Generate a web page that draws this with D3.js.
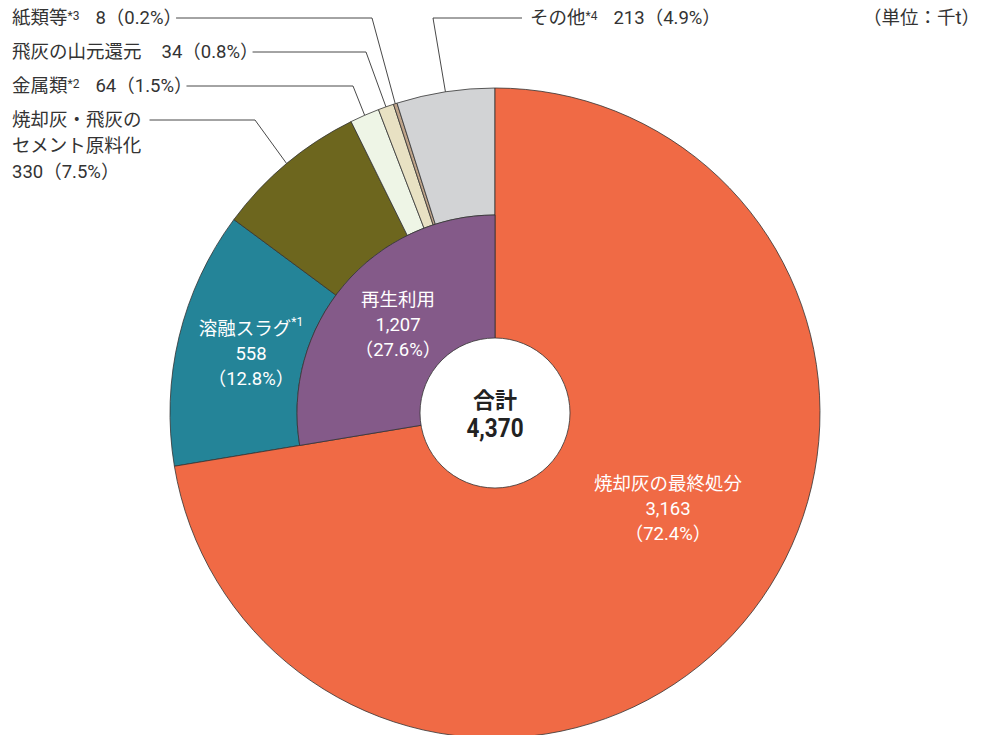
<!DOCTYPE html>
<html lang="ja">
<head>
<meta charset="utf-8">
<script src="https://cdn.jsdelivr.net/npm/d3@7"></script>
<style>
  html, body { margin: 0; padding: 0; background: #fff; }
  svg { display: block; }
  text { font-family: Roboto, "Noto Sans CJK JP", sans-serif; }
</style>
</head>
<body>
<svg id="chart" width="981" height="735"></svg>
<script>
// 焼却灰等の処理内訳（単位：千t）
const categories = ["焼却灰の最終処分", "溶融スラグ", "焼却灰・飛灰のセメント原料化", "金属類", "飛灰の山元還元", "紙類等", "その他"];
const values     = [3163, 558, 330, 64, 34, 8, 213];
const shareLabels = ["72.4%", "12.8%", "7.5%", "1.5%", "0.8%", "0.2%", "4.9%"];
const notes      = ["", "*1", "", "*2", "", "*3", "*4"];
const colors     = ["#F06A45", "#248498", "#6D661E", "#EEF5E6", "#E8E1C3", "#BFA48A", "#D2D3D5"];

// 再生利用（溶融スラグ〜その他の合計）
const groupName   = "再生利用";
const groupValue  = 1207;
const groupShare  = "27.6%";
const groupColor  = "#845A89";
const totalLabel  = "合計";
const totalValue  = 4370;
const unitLabel   = "（単位：千t）";

const svg = d3.select("#chart");
const cx = 495, cy = 413;
const rOuter = 325, rMid = 198, rHole = 75;
const fmt = d3.format(",");
const FS = 18.5;

const pie = d3.pie().sort(null).value(d => d.value);
const data = categories.map((c, i) => ({ name: c, value: values[i], share: shareLabels[i], note: notes[i], color: colors[i] }));
const arcs = pie(data);

const g = svg.append("g").attr("transform", `translate(${cx},${cy})`);

const arcOuterRing = d3.arc().innerRadius(rMid).outerRadius(rOuter);
const arcFull = d3.arc().innerRadius(0).outerRadius(rOuter);

// 外周の再生利用内訳
g.selectAll("path.ring")
  .data(arcs.slice(1))
  .join("path")
  .attr("class", "ring")
  .attr("d", arcOuterRing)
  .attr("fill", d => d.data.color)
  .attr("stroke", "#333")
  .attr("stroke-width", 0.8);

// 最終処分（中心まで）
g.append("path")
  .attr("d", arcFull(arcs[0]))
  .attr("fill", arcs[0].data.color)
  .attr("stroke", "#333")
  .attr("stroke-width", 0.8);

// 内側の再生利用
const innerPie = pie([{ value: totalValue - groupValue }, { value: groupValue }]);
const arcInner = d3.arc().innerRadius(0).outerRadius(rMid);
g.append("path")
  .attr("d", arcInner(innerPie[1]))
  .attr("fill", groupColor)
  .attr("stroke", "#333")
  .attr("stroke-width", 0.8);

// 中央の合計
g.append("circle").attr("r", rHole).attr("fill", "#fff").attr("stroke", "#333").attr("stroke-width", 0.8);
g.append("text").attr("text-anchor", "middle").attr("y", -13).attr("dy", "0.35em")
  .attr("font-size", 22).attr("font-weight", 700).attr("fill", "#222").text(totalLabel);
g.append("text").attr("text-anchor", "middle").attr("y", 15).attr("dy", "0.35em")
  .attr("font-size", 25).attr("font-weight", 700).attr("fill", "#222")
  .attr("transform", "scale(0.9,1)").text(fmt(totalValue));

// スライス内ラベル（白文字）
function innerLabel(x, y, lines) {
  const t = svg.append("text").attr("text-anchor", "middle").attr("font-size", FS).attr("fill", "#fff");
  lines.forEach((ln, k) => {
    const ts = t.append("tspan").attr("x", x).attr("y", y + k * 25).attr("dy", "0.35em");
    if (typeof ln === "string") ts.text(ln);
    else {
      ts.text(ln[0]);
      t.append("tspan").attr("font-size", 12).attr("dy", "-0.75em").text(ln[1]);
    }
  });
}
const labelAt = (a, r) => {
  const m = (a.startAngle + a.endAngle) / 2;
  return [cx + r * Math.sin(m), cy - r * Math.cos(m)];
};

innerLabel(668, 484, [categories[0], fmt(values[0]), `（${shareLabels[0]}）`]);
innerLabel(251, 329, [[categories[1], notes[1]], fmt(values[1]), `（${shareLabels[1]}）`]);
innerLabel(398, 300, [groupName, fmt(groupValue), `（${groupShare}）`]);

// 外側の引出線付きラベル
const outside = [
  { i: 5, x: 12, y: 18, elbow: 372, side: "left", lines: [[categories[5], notes[5], `${values[5]}（${shareLabels[5]}）`]] },
  { i: 4, x: 12, y: 52, elbow: 366, side: "left", lines: [[categories[4], "", `${values[4]}（${shareLabels[4]}）`]] },
  { i: 3, x: 12, y: 86, elbow: 353, side: "left", lines: [[categories[3], notes[3], `${values[3]}（${shareLabels[3]}）`]] },
  { i: 2, x: 12, y: 120, elbow: 255, side: "left", lines: [["焼却灰・飛灰の", "", ""], ["セメント原料化", "", ""], [`${values[2]}（${shareLabels[2]}）`, "", ""]] },
  { i: 6, x: 530, y: 18, elbow: 433, side: "right", lines: [[categories[6], notes[6], `${values[6]}（${shareLabels[6]}）`]] }
];

const line = d3.line();
outside.forEach(o => {
  const t = svg.append("text").attr("font-size", FS).attr("fill", "#333");
  o.lines.forEach((ln, k) => {
    const ly = o.y + k * 26;
    t.append("tspan").attr("x", o.x).attr("y", ly).attr("dy", "0.35em").text(ln[0]);
    if (ln[1]) t.append("tspan").attr("font-size", 12).attr("dy", "-0.4em").text(ln[1]);
    if (ln[2]) t.append("tspan").attr("y", ly).attr("dy", "0.35em").attr("dx", ln[1] ? 16 : 20).text(ln[2]);
  });
  const end = labelAt(arcs[o.i], rOuter);
  let startX;
  if (o.side === "left") {
    let right = o.x;
    t.selectAll("tspan").each(function () {
      const b = this.getBBox();
      if (Math.abs(b.y + b.height / 2 - o.y) < 12) right = Math.max(right, b.x + b.width);
    });
    // 全角括弧の余白を詰める
    startX = o.lines[0][2] ? right - 6 : right + 8;
  } else {
    startX = o.x - 8;
  }
  svg.append("path")
    .attr("d", line([[startX, o.y], [o.elbow, o.y], end]))
    .attr("fill", "none").attr("stroke", "#333").attr("stroke-width", 0.9);
});

// 単位
svg.append("text").attr("x", 980).attr("y", 18).attr("dy", "0.35em")
  .attr("text-anchor", "end").attr("font-size", FS).attr("fill", "#333").text(unitLabel);
</script>
</body>
</html>
